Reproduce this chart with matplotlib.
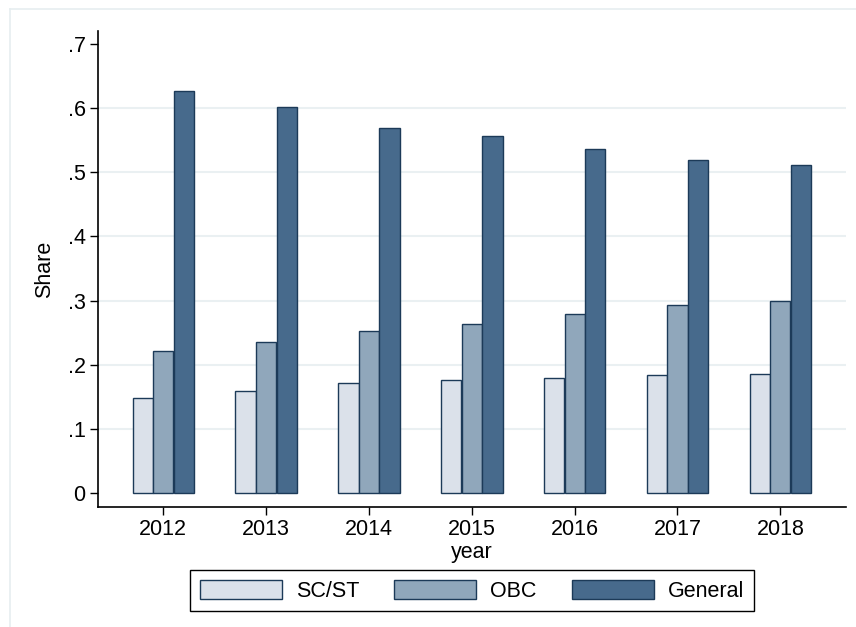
import matplotlib
matplotlib.use("Agg")
import matplotlib.pyplot as plt
import numpy as np
from matplotlib.lines import Line2D

plt.rcParams['font.family'] = ['Liberation Sans', 'DejaVu Sans']

# data
years = [2012, 2013, 2014, 2015, 2016, 2017, 2018]
sc_st = [0.148, 0.159, 0.172, 0.176, 0.179, 0.183, 0.185]
obc = [0.221, 0.235, 0.253, 0.263, 0.279, 0.293, 0.299]
general = [0.627, 0.602, 0.569, 0.557, 0.537, 0.519, 0.511]
series_names = ["SC/ST", "OBC", "General"]
yticks = [0, 0.1, 0.2, 0.3, 0.4, 0.5, 0.6, 0.7]
ytick_labels = ["0", ".1", ".2", ".3", ".4", ".5", ".6", ".7"]

colors = ["#dbe1ea", "#90a7bb", "#476a8c"]
edge = "#1c3a58"

fig = plt.figure(figsize=(8.56, 6.27), dpi=100)
ax = fig.add_axes([0.1145, 0.1914, 0.8735, 0.7592])

x = np.array(years, dtype=float)
barWidth = 0.197
offsets = [-0.2, 0.0, 0.2]
for vals, off, col, name in zip([sc_st, obc, general], offsets, colors, series_names):
    ax.bar(x + off, vals, width=barWidth, color=col, edgecolor=edge, linewidth=1.0,
           label=name, zorder=3)

# stata style: grid lines only between the first and last tick
for yv in yticks[1:-1]:
    ax.axhline(yv, color="#eaf0f2", linewidth=1.5, zorder=1)

ax.set_xlim(2011.365, 2018.636)
ax.set_ylim(-0.0223, 0.7208)
ax.set_xticks(years)
ax.set_xticklabels([str(y) for y in years])
ax.set_yticks(yticks)
ax.set_yticklabels(ytick_labels)
ax.tick_params(axis='both', direction='out', length=6, width=1.0, labelsize=15.5,
               colors='black', pad=3)

for s in ["top", "right"]:
    ax.spines[s].set_visible(False)
for s in ["left", "bottom"]:
    ax.spines[s].set_linewidth(1.2)
    ax.spines[s].set_color("black")

ax.set_xlabel("year", fontsize=15.5, labelpad=1)
ax.set_ylabel("Share", fontsize=15.5, labelpad=9)

leg = fig.legend(loc="center", bbox_to_anchor=(0.5515, 0.0582), ncol=3, fontsize=15.5,
                 frameon=True, fancybox=False, edgecolor="black", framealpha=1,
                 handlelength=3.8, handleheight=1.0, handletextpad=0.65,
                 columnspacing=1.65, borderpad=0.45)
leg.get_frame().set_linewidth(1.0)

# light outer border lines of the original graph region
fig.add_artist(Line2D([10 / 856, 1], [1 - 9 / 627, 1 - 9 / 627], color="#e6eef0", linewidth=1.2))
fig.add_artist(Line2D([10 / 856, 10 / 856], [0, 1 - 9 / 627], color="#e6eef0", linewidth=1.2))

fig.savefig("out.png", dpi=100)
